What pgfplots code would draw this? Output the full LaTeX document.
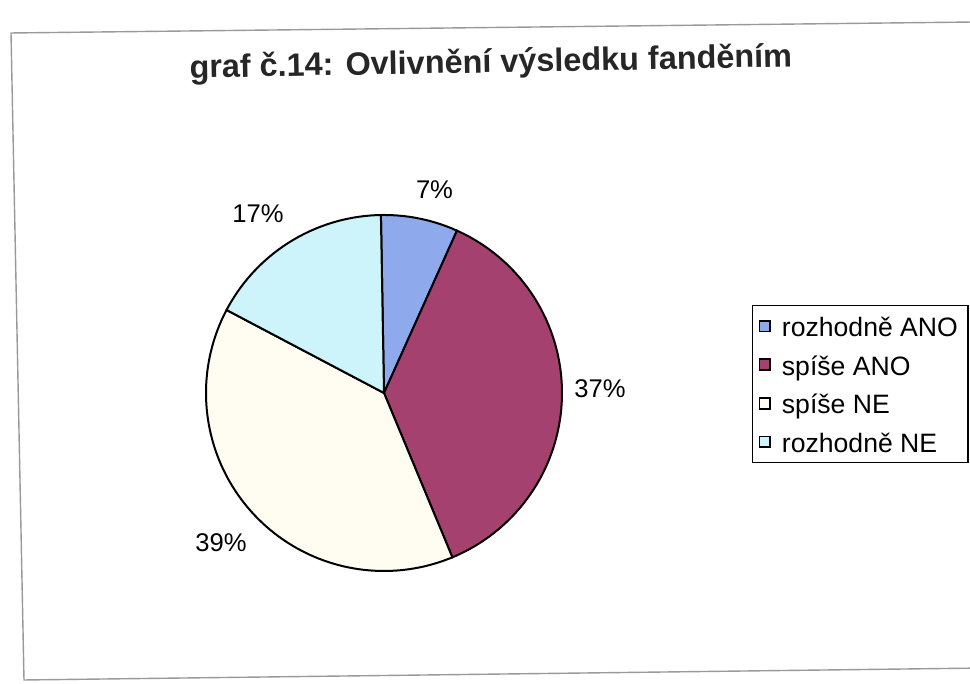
\documentclass[border=0pt]{standalone}
\usepackage{pgfplots}
\usepackage{pgfplotstable}
\pgfplotsset{compat=1.18}
\usepackage{fontspec}
\setmainfont{Liberation Sans}
\definecolor{cA}{HTML}{8EA9EC}
\definecolor{cB}{HTML}{A5416E}
\definecolor{cC}{HTML}{FFFDF2}
\definecolor{cD}{HTML}{CCF4FA}
\pgfplotstableread{
label value
A 7
B 37
C 39
D 17
}\piedata
\begin{document}
\begin{tikzpicture}
\pgfplotstablegetelem{0}{value}\of\piedata \let\vA\pgfplotsretval
\pgfplotstablegetelem{1}{value}\of\piedata \let\vB\pgfplotsretval
\pgfplotstablegetelem{2}{value}\of\piedata \let\vC\pgfplotsretval
\pgfplotstablegetelem{3}{value}\of\piedata \let\vD\pgfplotsretval
\pgfmathsetmacro\aA{91}
\pgfmathsetmacro\aB{\aA-3.6*\vA}
\pgfmathsetmacro\aC{\aB-3.6*\vB}
\pgfmathsetmacro\aD{\aC-3.6*\vC}
\pgfmathsetmacro\aE{\aD-3.6*\vD}
\begin{axis}[width=485pt,height=342pt,scale only axis,
  xmin=0,xmax=970,ymin=0,ymax=684,hide axis,clip=false,
  legend style={at={(0.7753,0.5541)},anchor=north west,draw=black,line width=0.6pt,
    font=\fontsize{13.3pt}{15pt}\selectfont,inner xsep=3pt,inner ysep=2pt,
    row sep=2.8pt,cells={anchor=west},
    nodes={inner sep=2pt,text height=11.5pt,text depth=1pt}},
  legend image code/.code={\draw[#1,line width=0.9pt] (0.3pt,-2.7pt) rectangle (5.7pt,2.7pt); \path (9pt,0pt);},
]
\draw[gray!80,line width=0.7pt] (axis cs:11,651) -- (axis cs:975,662) -- (axis cs:985,16) -- (axis cs:24,4) -- cycle;
\coordinate (BL) at (axis cs:0,0);
\coordinate (TR) at (axis cs:970,684);
\addplot[fill=cA,draw=black,line width=1pt,domain=\aB:\aA,samples=40,variable=\t]
  ({384+178*cos(t)},{291+178*sin(t)}) -- (axis cs:384,291) -- cycle;
\addlegendentry{rozhodně ANO}
\addplot[fill=cB,draw=black,line width=1pt,domain=\aC:\aB,samples=120,variable=\t]
  ({384+178*cos(t)},{291+178*sin(t)}) -- (axis cs:384,291) -- cycle;
\addlegendentry{spíše ANO}
\addplot[fill=cC,draw=black,line width=1pt,domain=\aD:\aC,samples=120,variable=\t]
  ({384+178*cos(t)},{291+178*sin(t)}) -- (axis cs:384,291) -- cycle;
\addlegendentry{spíše NE}
\addplot[fill=cD,draw=black,line width=1pt,domain=\aE:\aD,samples=60,variable=\t]
  ({384+178*cos(t)},{291+178*sin(t)}) -- (axis cs:384,291) -- cycle;
\addlegendentry{rozhodně NE}
\node[anchor=base,rotate=1.07,font=\fontsize{16.2pt}{19pt}\selectfont\bfseries,text=black!85] at (axis cs:491,611.5) {graf č.14: Ovlivnění výsledku fanděním};
\node[anchor=base,font=\fontsize{12.8pt}{15pt}\selectfont] at (axis cs:434.5,485) {7\%};
\node[anchor=base,font=\fontsize{12.8pt}{15pt}\selectfont] at (axis cs:600,286) {37\%};
\node[anchor=base,font=\fontsize{12.8pt}{15pt}\selectfont] at (axis cs:221,132) {39\%};
\node[anchor=base,font=\fontsize{12.8pt}{15pt}\selectfont] at (axis cs:258,461) {17\%};
\end{axis}
\pgfresetboundingbox
\useasboundingbox (BL) rectangle (TR);
\end{tikzpicture}
\end{document}
